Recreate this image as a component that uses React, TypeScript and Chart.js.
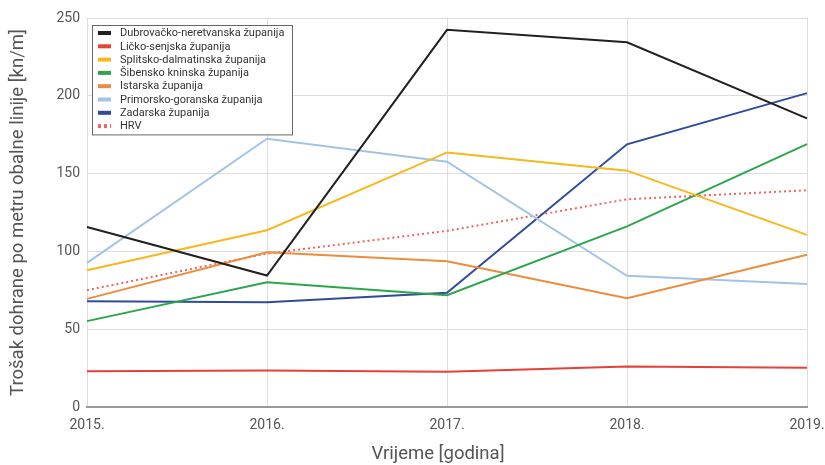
import React, { useEffect, useRef } from "react";
import { Chart, registerables } from "chart.js";

Chart.register(...registerables);

const years = ["2015.", "2016.", "2017.", "2018.", "2019."];
const dubrovacko = [115.7, 84.5, 242.4, 234.4, 185.5];
const licko = [22.9, 23.5, 22.7, 26.1, 25.2];
const splitsko = [87.9, 113.6, 163.6, 151.9, 110.6];
const sibensko = [55.2, 80.2, 71.9, 116.1, 169.0];
const istarska = [69.5, 99.5, 93.7, 69.9, 97.8];
const primorsko = [92.6, 172.4, 157.6, 84.3, 79.1];
const zadarska = [68.0, 67.4, 73.4, 168.8, 201.7];
const hrv = [75.1, 98.6, 113.2, 133.5, 139.3];

const xTitle = "Vrijeme [godina]";
const yTitle = "Trošak dohrane po metru obalne linije [kn/m]";

const FONT = "Roboto";

const boxLegend = {
  id: "boxLegend",
  afterDraw(chart: any) {
    const ctx = chart.ctx;
    const ds = chart.data.datasets;
    const x0 = 92, y0 = 25, w = 200, rowH = 13.3;
    const h = ds.length * rowH + 3;
    ctx.save();
    ctx.fillStyle = "#ffffff";
    ctx.fillRect(x0, y0, w, h);
    ctx.strokeStyle = "#666";
    ctx.lineWidth = 1;
    ctx.strokeRect(x0 + 0.5, y0 + 0.5, w, h);
    ctx.font = `11px ${FONT}`;
    ctx.textBaseline = "middle";
    ds.forEach((d: any, i: number) => {
      const cy = y0 + 8 + i * rowH;
      ctx.strokeStyle = d.borderColor;
      ctx.lineWidth = 4;
      if (d.borderDash && d.borderDash.length) {
        ctx.setLineDash([3, 3]);
      } else {
        ctx.setLineDash([]);
      }
      ctx.beginPath();
      ctx.moveTo(98, cy);
      ctx.lineTo(111, cy);
      ctx.stroke();
      ctx.setLineDash([]);
      ctx.fillStyle = "#333";
      ctx.fillText(d.label, 120, cy + 0.5);
    });
    ctx.restore();
  },
};

const xTitlePlugin = {
  id: "xTitlePlugin",
  afterDraw(chart: any) {
    const ctx = chart.ctx;
    ctx.save();
    ctx.font = `18.5px ${FONT}`;
    ctx.fillStyle = "#555";
    ctx.textAlign = "center";
    ctx.textBaseline = "middle";
    ctx.fillText(xTitle, 438, 454);
    ctx.restore();
  },
};

export default function App() {
  const ref = useRef<HTMLCanvasElement>(null);
  useEffect(() => {
    if (!ref.current) return;
    const mk = (label: string, data: number[], color: string, dash: number[] = []) => ({
      label,
      data,
      borderColor: color,
      backgroundColor: color,
      borderWidth: 2,
      borderDash: dash,
      pointRadius: 0,
      tension: 0,
      fill: false,
    });
    const chart = new Chart(ref.current, {
      type: "line",
      data: {
        labels: years,
        datasets: [
          mk("Dubrovačko-neretvanska županija", dubrovacko, "#231f20"),
          mk("Ličko-senjska županija", licko, "#e5403a"),
          mk("Splitsko-dalmatinska županija", splitsko, "#f7b71d"),
          mk("Šibensko kninska županija", sibensko, "#2ca64b"),
          mk("Istarska županija", istarska, "#ec8d3b"),
          mk("Primorsko-goranska županija", primorsko, "#a3c3e6"),
          mk("Zadarska županija", zadarska, "#2f4b9c"),
          mk("HRV", hrv, "#f26464", [2, 3]),
        ],
      },
      plugins: [boxLegend, xTitlePlugin],
      options: {
        animation: false,
        responsive: false,
        maintainAspectRatio: false,
        layout: { padding: { left: 0, right: 0, top: 18, bottom: 0 } },
        plugins: {
          legend: { display: false },
          tooltip: { enabled: false },
        },
        scales: {
          x: {
            offset: false,
            grid: { color: "#dddddd", lineWidth: 1, drawTicks: false },
            border: { color: "#999999", width: 2 },
            ticks: { color: "#555", font: { family: FONT, size: 14 }, maxRotation: 0, padding: 10 },
            afterFit: (s: any) => {
              s.height = 58;
              s.paddingRight = 18;
              s.paddingLeft = 0;
            },
          },
          y: {
            min: 0,
            max: 250,
            ticks: { stepSize: 50, color: "#555", font: { family: FONT, size: 14 }, padding: 7 },
            grid: { color: "#dddddd", lineWidth: 1, drawTicks: false },
            border: { display: false },
            title: {
              display: true,
              text: yTitle,
              color: "#555",
              font: { family: FONT, size: 18.5 },
              padding: { top: 7, bottom: 0 },
            },
            afterFit: (s: any) => {
              s.width = 87;
            },
          },
        },
      },
    });
    return () => chart.destroy();
  }, []);
  return (
    <div style={{ position: "absolute", left: 0, top: 0, width: 825, height: 465, background: "#fff" }}>
      <canvas ref={ref} width={825} height={465} style={{ width: 825, height: 465 }} />
    </div>
  );
}
